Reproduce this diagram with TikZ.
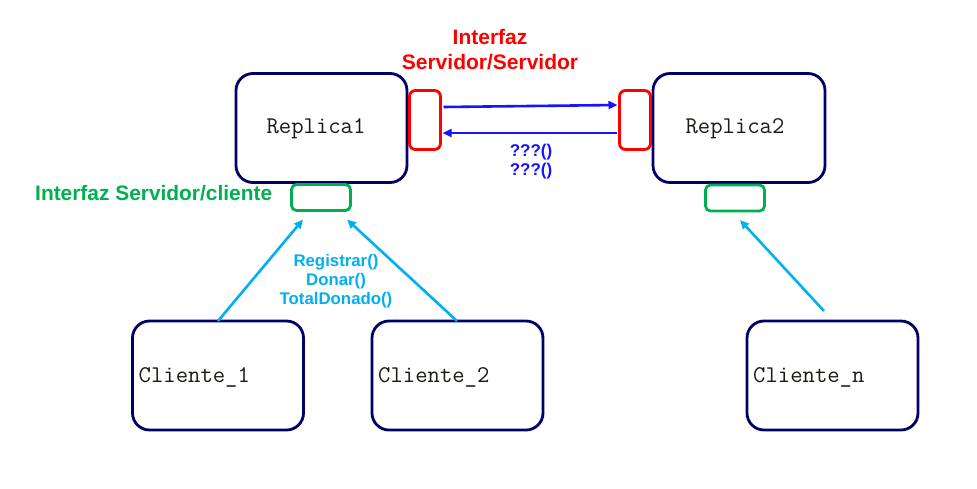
\documentclass[tikz,border=0pt]{standalone}
\usepackage{fontspec}
\setmainfont{Liberation Sans}
\usetikzlibrary{arrows.meta}
\definecolor{navy}{RGB}{0,0,102}
\definecolor{ired}{RGB}{255,0,0}
\definecolor{igreen}{RGB}{0,176,80}
\definecolor{icyan}{RGB}{0,176,240}
\definecolor{iblue}{RGB}{20,20,255}
\definecolor{mono}{RGB}{30,25,20}
\tikzset{
  bigbox/.style={draw=navy, line width=2.8pt, rounded corners=17pt, minimum width=171pt, minimum height=109pt, inner sep=0pt, outer sep=0pt},
  redport/.style={draw=ired, line width=2.8pt, rounded corners=6pt, minimum width=31pt, minimum height=59pt, inner sep=0pt, outer sep=0pt},
  greenport/.style={draw=igreen, line width=2.8pt, rounded corners=5pt, minimum width=59pt, minimum height=26pt, inner sep=0pt, outer sep=0pt},
  monotext/.style={text=mono, font=\ttfamily\fontsize{24}{27}\selectfont, inner sep=0pt},
  bluearrow/.style={draw=iblue, line width=2.6pt, -{Triangle[length=9pt,width=8pt]}},
  cyanarrow/.style={draw=icyan, line width=2.6pt, -{Triangle[length=9pt,width=8pt]}},
  lbl/.style={font=\bfseries\fontsize{#1}{#1}\selectfont, inner sep=0pt, align=center},
}
\begin{document}
\begin{tikzpicture}[x=1pt,y=-1pt]
\useasboundingbox[fill=white] (0,0) rectangle (977,488);
% boxes
\node[bigbox] (rep1) at (321.5,128) {};
\node[bigbox, minimum width=172pt] (rep2) at (739,128) {};
\node[redport] (r1s) at (425,120) {};
\node[redport] (r2s) at (635,120) {};
\node[greenport] (g1) at (321,197.5) {};
\node[greenport] (g2) at (735,198) {};
\node[bigbox] (c1) at (218,375.5) {};
\node[bigbox] (c2) at (457.5,375.5) {};
\node[bigbox] (cn) at (832.5,375.5) {};
% box texts
\node[monotext] (t1) at (316,129) {Replica1};
\node[monotext] (t2) at (735,129) {Replica2};
\node[monotext, anchor=west] (tc1) at ([xshift=6pt,yshift=-1.5pt]c1.west) {Cliente\_1};
\node[monotext, anchor=west] (tc2) at ([xshift=6pt,yshift=-1.5pt]c2.west) {Cliente\_2};
\node[monotext, anchor=west] (tcn) at ([xshift=6pt,yshift=-1.5pt]cn.west) {Cliente\_n};
% labels
\node[lbl=21, text=ired] (ss1) at (490,37) {Interfaz};
\node[lbl=21, text=ired] (ss2) at (490,62) {Servidor/Servidor};
\node[lbl=20.9, text=igreen, anchor=west] (sc) at (35,193) {Interfaz Servidor/cliente};
\node[lbl=17, text=iblue] (q1) at (531,152) {???()};
\node[lbl=17, text=iblue] (q2) at (531,171) {???()};
\node[lbl=16.8, text=icyan] (m1) at (336,262) {Registrar()};
\node[lbl=16.8, text=icyan] (m2) at (336,281.5) {Donar()};
\node[lbl=16.8, text=icyan] (m3) at (336,300.5) {TotalDonado()};
% connectors
\draw[bluearrow] ([xshift=3pt,yshift=13pt]r1s.east) -- ([xshift=-2pt,yshift=15pt]r2s.west);
\draw[bluearrow] ([xshift=-3pt,yshift=-13pt]r2s.west) -- ([xshift=2pt,yshift=-13pt]r1s.east);
\draw[cyanarrow] (c1.north) -- ([xshift=-18pt,yshift=-9pt]g1.south);
\draw[cyanarrow] ([xshift=-0.5pt]c2.north) -- ([xshift=26pt,yshift=-9pt]g1.south);
\draw[cyanarrow] ([xshift=-8.5pt,yshift=10pt]cn.north) -- ([xshift=5pt,yshift=-9pt]g2.south);
\end{tikzpicture}
\end{document}
